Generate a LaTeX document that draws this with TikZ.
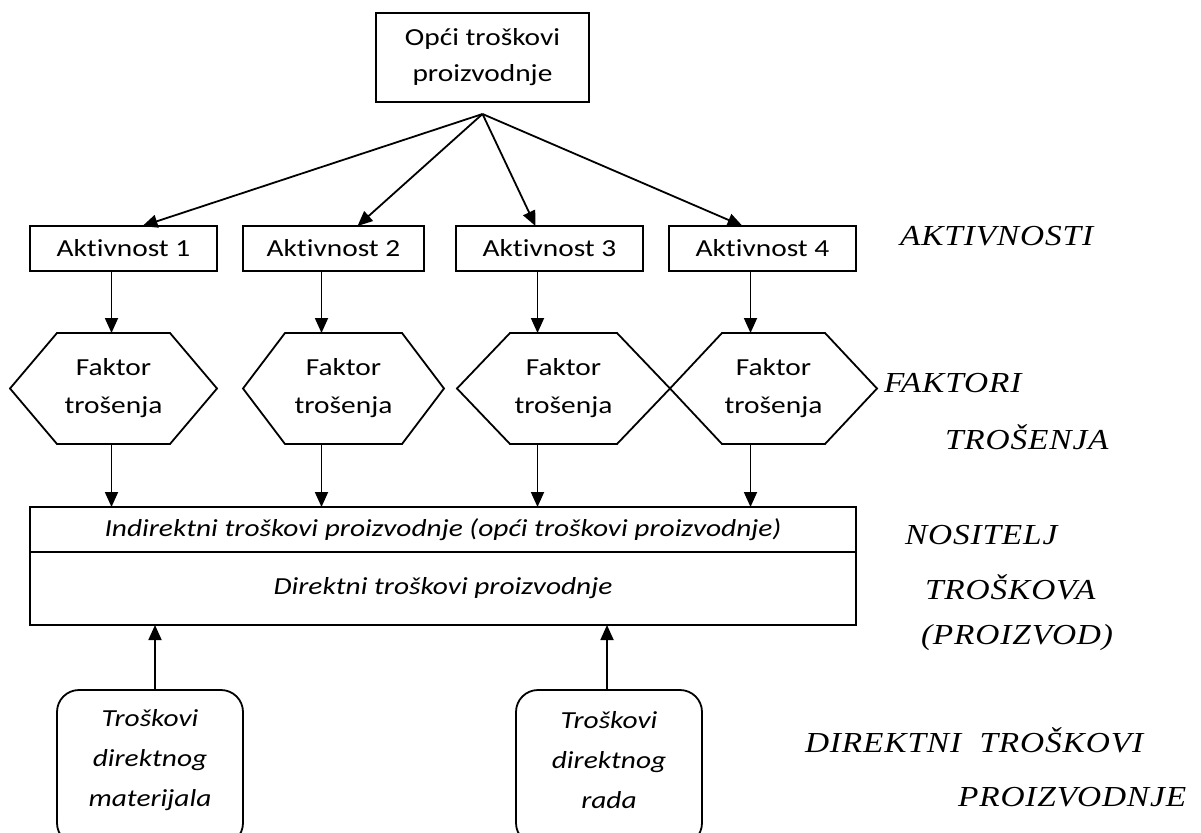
\documentclass[tikz,border=0pt]{standalone}
\usepackage{fontspec}
\setmainfont{Carlito}[FakeStretch=1.2,Ligatures=NoCommon]
\newfontfamily\labfont{Liberation Serif}[FakeStretch=1.15,LetterSpace=3]
\usetikzlibrary{arrows.meta}
\begin{document}
\begin{tikzpicture}[x=1pt,y=-1pt,
  every node/.style={inner sep=0pt, outer sep=0pt},
  bx/.style={draw, line width=1.8pt, align=center, font=\fontsize{24.5}{36}\selectfont},
  hx/.style={minimum height=111pt, align=center, font=\fontsize{24.5}{38}\selectfont},
  rb/.style={draw, line width=1.8pt, rounded corners=22pt, minimum width=186pt, minimum height=155pt},
  rt/.style={align=center, font=\fontsize{24.5}{40}\selectfont\itshape},
  lab/.style={anchor=west, font=\labfont\fontsize{29}{32}\selectfont\itshape},
  arr/.style={line width=1.8pt, -{Triangle[length=15pt,width=13pt]}},
  hexline/.style={line width=1.8pt}
]
\useasboundingbox (0,0) rectangle (1201,832);

% top box
\node[bx, minimum width=213pt, minimum height=89pt] (top) at (482.5,57.5) {Opći troškovi\\proizvodnje};
\coordinate (apex) at ([yshift=-12pt]top.south);

% activities
\node[bx, minimum width=187pt, minimum height=45pt] (a1) at (123.5,248.5) {Aktivnost 1};
\node[bx, minimum width=181pt, minimum height=45pt] (a2) at (333.5,248.5) {Aktivnost 2};
\node[bx, minimum width=187pt, minimum height=45pt] (a3) at (549.5,248.5) {Aktivnost 3};
\node[bx, minimum width=187pt, minimum height=45pt] (a4) at (762.5,248.5) {Aktivnost 4};

\draw[arr] (apex) -- ([xshift=19pt]a1.north);
\draw[arr] (apex) -- ([xshift=24pt]a2.north);
\draw[arr] (apex) -- ([xshift=-14pt]a3.north);
\draw[arr] (apex) -- ([xshift=-20pt]a4.north);

% hexagons
\node[hx, minimum width=207pt] (h1) at (113.5,388.5) {Faktor\\trošenja};
\node[hx, minimum width=201pt] (h2) at (343.5,388.5) {Faktor\\trošenja};
\node[hx, minimum width=213pt] (h3) at (563.5,388.5) {Faktor\\trošenja};
\node[hx, minimum width=207pt] (h4) at (773.5,388.5) {Faktor\\trošenja};
\foreach \h/\d in {h1/47,h2/42,h3/53,h4/52}
  \draw[hexline] ([xshift=\d pt]\h.north west) -- ([xshift=-\d pt]\h.north east) -- (\h.east)
     -- ([xshift=-\d pt]\h.south east) -- ([xshift=\d pt]\h.south west) -- (\h.west) -- cycle;

% cost object
\node[bx, minimum width=826pt, minimum height=45pt, font=\fontsize{24.5}{36}\selectfont\itshape] (ind) at (443,529.5)
  {Indirektni troškovi proizvodnje (opći troškovi proizvodnje)};
\node[bx, minimum width=826pt, minimum height=73pt, font=\fontsize{24.5}{36}\selectfont\itshape] (dir) at (443,588.5)
  {Direktni troškovi proizvodnje};

\foreach \a/\h in {a1/h1,a2/h2,a3/h3,a4/h4}{
  \draw[arr] ([xshift=-12pt]\a.south) -- ([xshift=-12pt]\a.south |- \h.north);
  \draw[arr] ([xshift=-12pt]\a.south |- \h.south) -- ([xshift=-12pt]\a.south |- ind.north);
}

% direct costs
\node[rb] (m1) at (150,767.5) {};
\node[rt] at ([yshift=7.5pt]m1.center) {Troškovi\\direktnog\\materijala};
\node[rb] (m2) at (609,767.5) {};
\node[rt] at ([yshift=7.5pt]m2.center) {Troškovi\\direktnog\\rada};
\draw[arr] ([xshift=5pt]m1.north) -- ([xshift=5pt]m1.north |- dir.south);
\draw[arr] ([xshift=-2pt]m2.north) -- ([xshift=-2pt]m2.north |- dir.south);

% right labels
\node[lab] (l1) at (900,236) {AKTIVNOSTI};
\node[lab] (l2) at (884,383) {FAKTORI};
\node[lab] (l3) at (945,437) {TROŠENJA};
\node[lab] (l4) at (905,535) {NOSITELJ};
\node[lab] (l5) at (925,587) {TROŠKOVA};
\node[lab] (l6) at (921,638) {(PROIZVOD)};
\node[lab] (l7) at (805,740) {DIREKTNI\ \ TROŠKOVI};
\node[lab] (l8) at (958,797) {PROIZVODNJE};
\end{tikzpicture}
\end{document}
